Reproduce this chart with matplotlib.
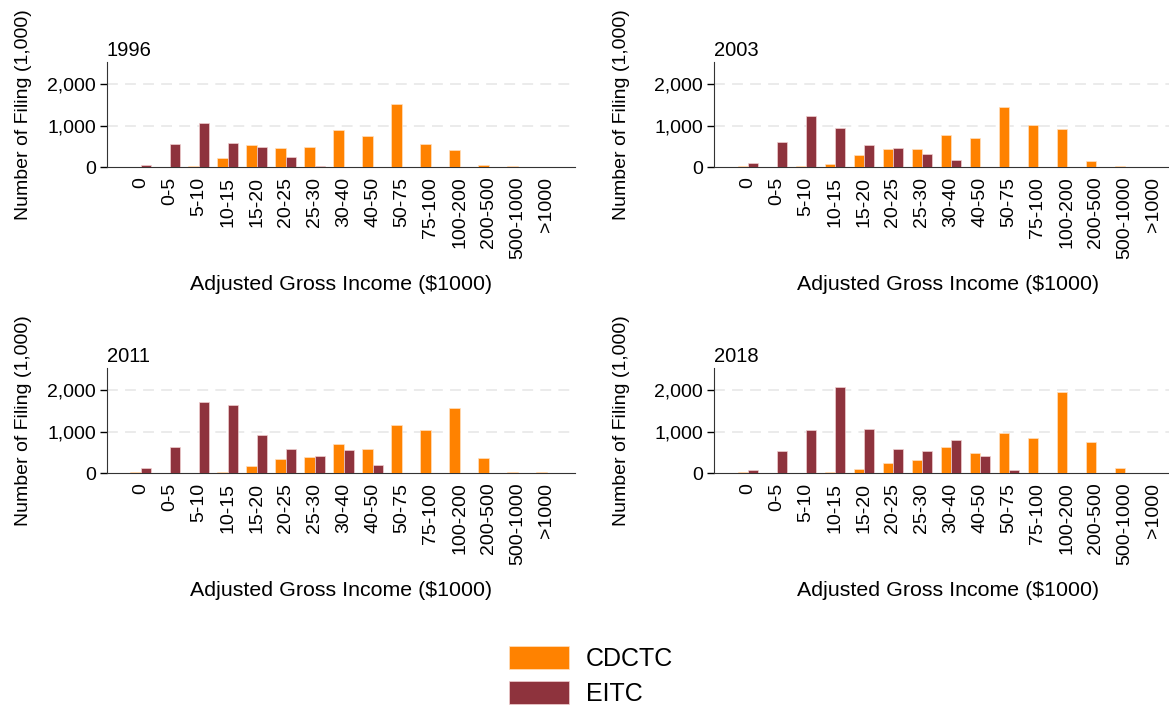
import numpy as np
import matplotlib
matplotlib.use("Agg")
import matplotlib.pyplot as plt
from matplotlib.patches import Patch
from matplotlib.ticker import FuncFormatter

plt.rcParams['font.family'] = ['Liberation Sans', 'DejaVu Sans']

# AGI bins ($1000)
bins = ["0", "0-5", "5-10", "10-15", "15-20", "20-25", "25-30", "30-40",
        "40-50", "50-75", "75-100", "100-200", "200-500", "500-1000", ">1000"]
years = ["1996", "2003", "2011", "2018"]

# Number of filings (1,000)
cdctc_1996 = [0, 0, 25, 215, 540, 465, 480, 900, 745, 1510, 555, 410, 55, 25, 5]
eitc_1996 = [50, 555, 1050, 585, 475, 240, 25, 0, 0, 0, 0, 0, 0, 0, 0]

cdctc_2003 = [25, 0, 25, 70, 300, 440, 435, 770, 690, 1445, 1010, 915, 135, 25, 0]
eitc_2003 = [90, 600, 1235, 950, 540, 460, 315, 160, 0, 0, 0, 0, 0, 0, 0]

cdctc_2011 = [25, 0, 0, 25, 160, 330, 385, 695, 585, 1150, 1025, 1560, 370, 30, 25]
eitc_2011 = [120, 630, 1705, 1630, 910, 575, 400, 545, 190, 0, 0, 0, 0, 0, 0]

cdctc_2018 = [30, 0, 0, 30, 95, 250, 320, 630, 480, 970, 855, 1950, 745, 120, 0]
eitc_2018 = [80, 520, 1040, 2080, 1055, 570, 520, 800, 400, 65, 0, 0, 0, 0, 0]

cdctc = [cdctc_1996, cdctc_2003, cdctc_2011, cdctc_2018]
eitc = [eitc_1996, eitc_2003, eitc_2011, eitc_2018]

c_orange = "#FF8200"
c_maroon = "#8E333D"

fig = plt.figure(figsize=(11.69, 7.08), dpi=100)

# axes placement: [left, bottom, width, height] in figure fraction
boxes = [[0.0915, 0.7641, 0.4004, 0.1483],
         [0.6108, 0.7641, 0.4004, 0.1483],
         [0.0915, 0.3319, 0.4004, 0.1483],
         [0.6108, 0.3319, 0.4004, 0.1483]]
ylab_x = [-0.179, -0.197, -0.179, -0.197]

x = np.arange(len(bins))
w = 0.36

for i, yr in enumerate(years):
    ax = fig.add_axes(boxes[i])
    ax.bar(x - w / 2, cdctc[i], w, color=c_orange, edgecolor="#ffe0c0", linewidth=0.5, zorder=3)
    ax.bar(x + w / 2, eitc[i], w, color=c_maroon, edgecolor="#f0d0d0", linewidth=0.5, zorder=3)

    ax.set_xlim(-1.17, 14.97)
    ax.set_ylim(0, 2530)
    ax.set_yticks([0, 1000, 2000])
    ax.yaxis.set_major_formatter(FuncFormatter(lambda v, p: "{:,.0f}".format(v)))
    ax.set_xticks(x)
    ax.set_xticklabels(bins, rotation=90, fontsize=14)
    ax.tick_params(axis="x", length=0, pad=7)
    ax.tick_params(axis="y", length=5, width=1, pad=3, labelsize=14)

    for yv in [1000, 2000]:
        ax.axhline(yv, color="#e9e9e9", lw=1.3, ls=(0, (6, 4)), zorder=1)

    for s in ["top", "right"]:
        ax.spines[s].set_visible(False)
    ax.spines["left"].set_color("#333333")
    ax.spines["bottom"].set_color("#333333")

    ax.set_title(yr, loc="left", fontsize=14.5, pad=4)
    ax.set_ylabel("Number of Filing (1,000)", fontsize=14)
    ax.yaxis.label.set_va("center")
    ax.yaxis.set_label_coords(ylab_x[i], 0.5)
    ax.set_xlabel("Adjusted Gross Income ($1000)", fontsize=15.4)
    ax.xaxis.label.set_va("center")
    ax.xaxis.set_label_coords(0.5, -1.12)

handles = [Patch(facecolor=c_orange, edgecolor="#ffe0c0", lw=0.5, label="CDCTC"),
           Patch(facecolor=c_maroon, edgecolor="#f0d0d0", lw=0.5, label="EITC")]
fig.legend(handles=handles, loc="center", bbox_to_anchor=(0.5056, 0.045), frameon=False,
           fontsize=18, handlelength=2.4, handleheight=1.05, labelspacing=0.4,
           handletextpad=0.7, borderpad=0)

fig.savefig("out.png", dpi=100)
